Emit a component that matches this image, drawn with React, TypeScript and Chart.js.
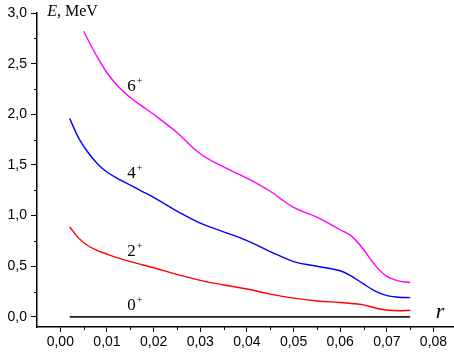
import React, { useEffect, useRef } from "react";
import { Chart, registerables } from "chart.js";

Chart.register(...registerables);

const r2 = [0.002, 0.004, 0.006, 0.008, 0.010, 0.0125, 0.015, 0.0175, 0.020, 0.025, 0.030, 0.035, 0.040, 0.045, 0.050, 0.055, 0.060, 0.0625, 0.065, 0.0675, 0.070, 0.0725, 0.075];
const e0 = [0, 0, 0, 0, 0, 0, 0, 0, 0, 0, 0, 0, 0, 0, 0, 0, 0, 0, 0, 0, 0, 0, 0];
const e2 = [0.89, 0.775, 0.70, 0.655, 0.62, 0.58, 0.546, 0.515, 0.485, 0.42, 0.36, 0.315, 0.275, 0.225, 0.185, 0.157, 0.142, 0.132, 0.118, 0.088, 0.068, 0.06, 0.065];
const e4 = [1.96, 1.76, 1.62, 1.51, 1.43, 1.36, 1.30, 1.24, 1.18, 1.045, 0.925, 0.84, 0.753, 0.645, 0.546, 0.50, 0.455, 0.40, 0.325, 0.255, 0.21, 0.194, 0.19];
const r6 = [0.005, 0.0075, 0.010, 0.0125, 0.015, 0.0175, 0.020, 0.025, 0.030, 0.035, 0.040, 0.045, 0.050, 0.055, 0.060, 0.0625, 0.065, 0.0675, 0.070, 0.0725, 0.075];
const e6 = [2.82, 2.60, 2.41, 2.27, 2.165, 2.08, 2.0, 1.82, 1.61, 1.48, 1.37, 1.24, 1.08, 0.985, 0.86, 0.795, 0.665, 0.51, 0.40, 0.355, 0.34];

const xMajor = [0, 0.01, 0.02, 0.03, 0.04, 0.05, 0.06, 0.07, 0.08];
const xMinor = [0.005, 0.015, 0.025, 0.035, 0.045, 0.055, 0.065, 0.075];
const yMajor = [0, 0.5, 1.0, 1.5, 2.0, 2.5, 3.0];
const yMinor = [0.25, 0.75, 1.25, 1.75, 2.25, 2.75];

const stateLabels = ["6", "4", "2", "0"];
const stateLabelE = [2.23, 1.372, 0.602, 0.069];
const stateLabelR = 0.01435;

const toPts = (xs: number[], ys: number[]) => xs.map((x, i) => ({ x, y: ys[i] }));

const annotPlugin = {
  id: "annot",
  afterDraw(chart: any) {
    const ctx = chart.ctx;
    const xs = chart.scales.x;
    const ys = chart.scales.y;
    const area = chart.chartArea;
    ctx.save();
    ctx.strokeStyle = "#000";
    ctx.lineWidth = 1;
    xMinor.forEach((v) => {
      const px = Math.round(xs.getPixelForValue(v)) + 0.5;
      ctx.beginPath();
      ctx.moveTo(px, area.bottom);
      ctx.lineTo(px, area.bottom + 3);
      ctx.stroke();
    });
    yMinor.forEach((v) => {
      const py = Math.round(ys.getPixelForValue(v)) + 0.5;
      ctx.beginPath();
      ctx.moveTo(area.left - 3, py);
      ctx.lineTo(area.left, py);
      ctx.stroke();
    });
    ctx.fillStyle = "#000";
    ctx.textBaseline = "alphabetic";
    ctx.textAlign = "left";
    stateLabels.forEach((s, i) => {
      const px = xs.getPixelForValue(stateLabelR);
      const py = ys.getPixelForValue(stateLabelE[i]);
      ctx.font = "17px 'Liberation Serif', serif";
      ctx.fillText(s, px, py);
      const w = ctx.measureText(s).width;
      ctx.font = "10px 'Liberation Serif', serif";
      ctx.fillText("+", px + w + 1, py - 7);
    });
    let px = xs.getPixelForValue(-0.0028);
    let py = ys.getPixelForValue(2.97);
    ctx.font = "italic 16px 'Liberation Serif', serif";
    ctx.fillText("E", px, py);
    const we = ctx.measureText("E").width;
    ctx.font = "16px 'Liberation Serif', serif";
    ctx.fillText(", MeV", px + we, py);
    px = xs.getPixelForValue(0.0805);
    py = ys.getPixelForValue(-0.01);
    ctx.font = "italic 22px 'Liberation Serif', serif";
    ctx.fillText("r", px, py);
    ctx.restore();
  },
};

export default function App() {
  const ref = useRef<HTMLCanvasElement>(null);
  useEffect(() => {
    if (!ref.current) return;
    const line = (data: any, color: string, w: number) => ({
      data,
      borderColor: color,
      borderWidth: w,
      pointRadius: 0,
      fill: false,
      tension: 0.4,
    });
    const chart = new Chart(ref.current, {
      type: "line",
      data: {
        datasets: [
          line(toPts(r2, e0), "#222222", 1.6),
          line(toPts(r2, e2), "#ff0000", 1.4),
          line(toPts(r2, e4), "#0000ff", 1.4),
          line(toPts(r6, e6), "#ff00ff", 1.4),
        ],
      },
      options: {
        animation: false,
        responsive: true,
        maintainAspectRatio: false,
        layout: { padding: { top: 13, right: 0, bottom: 0, left: 0 } },
        plugins: { legend: { display: false }, tooltip: { enabled: false } },
        scales: {
          x: {
            type: "linear",
            min: -0.005,
            max: 0.0844,
            afterBuildTicks: (s: any) => {
              s.ticks = xMajor.map((v) => ({ value: v }));
            },
            afterFit: (s: any) => {
              s.height = 33;
            },
            ticks: {
              color: "#000",
              padding: 2,
              maxRotation: 0,
              autoSkip: false,
              font: { family: "'Liberation Sans', Arial, sans-serif", size: 14 },
              callback: (v: any) => Number(v).toFixed(2).replace(".", ","),
            },
            grid: { drawOnChartArea: false, drawTicks: true, tickLength: 5, tickColor: "#000", tickWidth: 1 },
            border: { display: true, color: "#000", width: 1.5 },
          },
          y: {
            type: "linear",
            min: -0.1,
            max: 3.0,
            afterBuildTicks: (s: any) => {
              s.ticks = yMajor.map((v) => ({ value: v }));
            },
            afterFit: (s: any) => {
              s.width = 37;
            },
            ticks: {
              color: "#000",
              padding: 4,
              autoSkip: false,
              font: { family: "'Liberation Sans', Arial, sans-serif", size: 14 },
              callback: (v: any) => Number(v).toFixed(1).replace(".", ","),
            },
            grid: { drawOnChartArea: false, drawTicks: true, tickLength: 6, tickColor: "#000", tickWidth: 1 },
            border: { display: true, color: "#000", width: 1.5 },
          },
        },
      },
      plugins: [annotPlugin],
    });
    return () => chart.destroy();
  }, []);
  return (
    <div style={{ position: "fixed", left: 0, top: 0, width: 454, height: 360, background: "#fff" }}>
      <canvas ref={ref} />
    </div>
  );
}
